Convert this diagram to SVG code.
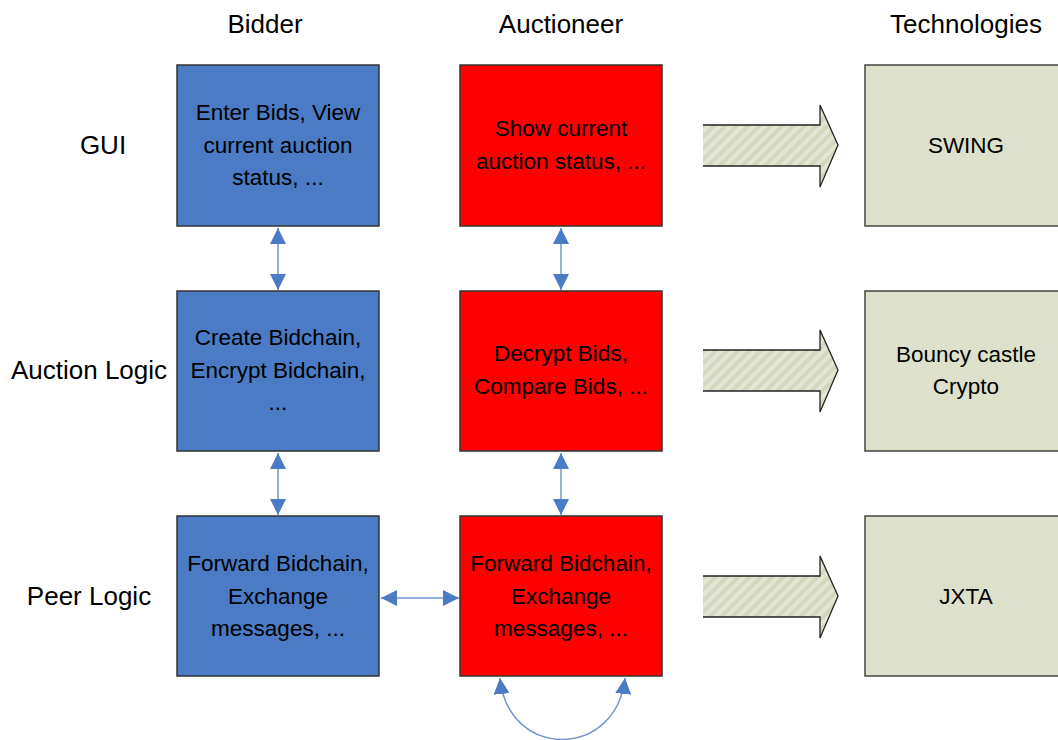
<svg xmlns="http://www.w3.org/2000/svg" width="1058" height="740" viewBox="0 0 1058 740">
  <style>
    text { font-family: "Liberation Sans", Arial, sans-serif; font-size: 22.5px; fill: #000; text-anchor: middle; }
    text.head { font-size: 26px; }
    .bid { fill: #4a7bc4; stroke: #333; stroke-width: 1.5; }
    .auc { fill: #ff0000; stroke: #333; stroke-width: 1.5; }
    .tech { fill: #dde0cb; stroke: #444; stroke-width: 1.5; }
    .link { stroke: #6f94cf; stroke-width: 1.5; fill: none; }
    .barrow { fill: url(#hatch); }
    .bedge { fill: none; stroke: #222; stroke-width: 1.3; }
  </style>
  <defs>
    <marker id="tipBig" viewBox="0 0 10 10" refX="10" refY="5" markerWidth="16" markerHeight="16" markerUnits="userSpaceOnUse" orient="auto-start-reverse">
      <path d="M0,0 L10,5 L0,10 z" fill="#4a7bc4"/>
    </marker>
    <pattern id="hatch" patternUnits="userSpaceOnUse" width="8" height="8" patternTransform="rotate(45)">
      <rect width="8" height="8" fill="#e3e6d4"/>
      <rect width="4" height="8" fill="#d3d7bd"/>
    </pattern>
  </defs>

  <!-- column and row headings -->
  <g id="headings">
    <text class="head" x="265" y="33">Bidder</text>
    <text class="head" x="561" y="33">Auctioneer</text>
    <text class="head" x="966" y="33">Technologies</text>
    <text class="head" x="103" y="154">GUI</text>
    <text class="head" x="89" y="379">Auction Logic</text>
    <text class="head" x="89" y="605">Peer Logic</text>
  </g>

  <!-- bidder column -->
  <g id="bidder-gui">
    <rect class="bid" x="177" y="65" width="202" height="161"/>
    <text x="278" y="120">Enter Bids, View</text>
    <text x="278" y="153">current auction</text>
    <text x="278" y="185">status, ...</text>
  </g>
  <g id="bidder-logic">
    <rect class="bid" x="177" y="291" width="202" height="160"/>
    <text x="278" y="345">Create Bidchain,</text>
    <text x="278" y="378">Encrypt Bidchain,</text>
    <text x="278" y="410">...</text>
  </g>
  <g id="bidder-peer">
    <rect class="bid" x="177" y="516" width="202" height="160"/>
    <text x="278" y="571">Forward Bidchain,</text>
    <text x="278" y="604">Exchange</text>
    <text x="278" y="636">messages, ...</text>
  </g>

  <!-- auctioneer column -->
  <g id="auctioneer-gui">
    <rect class="auc" x="460" y="65" width="202" height="161"/>
    <text x="561" y="136">Show current</text>
    <text x="561" y="169">auction status, ...</text>
  </g>
  <g id="auctioneer-logic">
    <rect class="auc" x="460" y="291" width="202" height="160"/>
    <text x="561" y="361">Decrypt Bids,</text>
    <text x="561" y="394">Compare Bids, ...</text>
  </g>
  <g id="auctioneer-peer">
    <rect class="auc" x="460" y="516" width="202" height="160"/>
    <text x="561" y="571">Forward Bidchain,</text>
    <text x="561" y="604">Exchange</text>
    <text x="561" y="636">messages, ...</text>
  </g>

  <!-- technologies column -->
  <g id="tech-swing">
    <rect class="tech" x="865" y="65" width="200" height="161"/>
    <text x="966" y="153">SWING</text>
  </g>
  <g id="tech-crypto">
    <rect class="tech" x="865" y="291" width="200" height="160"/>
    <text x="966" y="362">Bouncy castle</text>
    <text x="966" y="394">Crypto</text>
  </g>
  <g id="tech-jxta">
    <rect class="tech" x="865" y="516" width="200" height="160"/>
    <text x="966" y="604">JXTA</text>
  </g>

  <!-- connectors -->
  <g id="connectors">
    <line class="link" x1="278" y1="228" x2="278" y2="290" marker-start="url(#tipBig)" marker-end="url(#tipBig)"/>
    <line class="link" x1="278" y1="453" x2="278" y2="515" marker-start="url(#tipBig)" marker-end="url(#tipBig)"/>
    <line class="link" x1="561" y1="228" x2="561" y2="290" marker-start="url(#tipBig)" marker-end="url(#tipBig)"/>
    <line class="link" x1="561" y1="453" x2="561" y2="515" marker-start="url(#tipBig)" marker-end="url(#tipBig)"/>
    <line class="link" x1="381" y1="598" x2="459" y2="598" marker-start="url(#tipBig)" marker-end="url(#tipBig)"/>
    <path class="link" d="M500,678 C508,760 616,760 625,678" marker-start="url(#tipBig)" marker-end="url(#tipBig)"/>

    <!-- block arrows towards the technologies -->
    <g id="block-arrows">
      <path class="barrow" d="M703,125 H820 V105 L838,145 L820,187 V166 H703 Z"/>
      <path class="bedge" d="M703,125 H820 V105 L838,145 L820,187 V166 H703"/>
      <path class="barrow" d="M703,350 H820 V330 L838,370 L820,412 V391 H703 Z"/>
      <path class="bedge" d="M703,350 H820 V330 L838,370 L820,412 V391 H703"/>
      <path class="barrow" d="M703,576 H820 V556 L838,596 L820,638 V617 H703 Z"/>
      <path class="bedge" d="M703,576 H820 V556 L838,596 L820,638 V617 H703"/>
    </g>
  </g>
</svg>
